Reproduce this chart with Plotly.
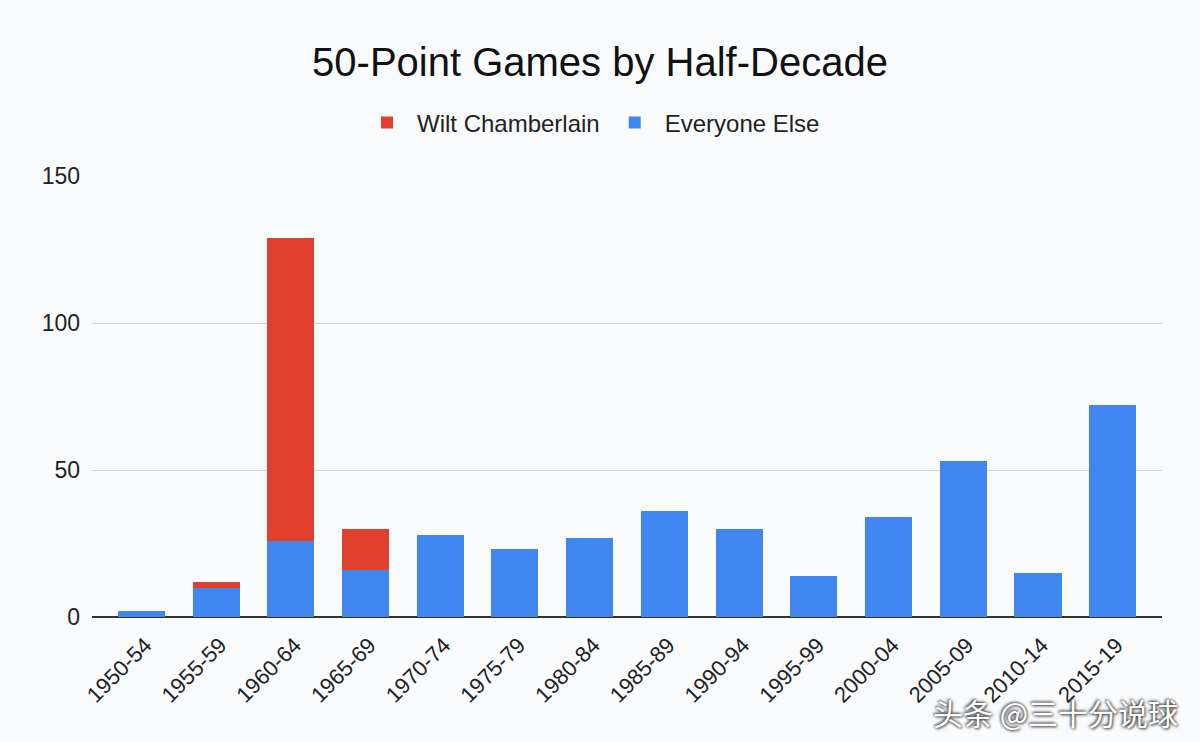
import plotly.graph_objects as go

categories = ["1950-54", "1955-59", "1960-64", "1965-69", "1970-74", "1975-79", "1980-84",
              "1985-89", "1990-94", "1995-99", "2000-04", "2005-09", "2010-14", "2015-19"]
everyone_else = [2, 10, 26, 16, 28, 23, 27, 36, 30, 14, 34, 53, 15, 72]
wilt = [0, 2, 103, 14, 0, 0, 0, 0, 0, 0, 0, 0, 0, 0]
y_ticks = [0, 50, 100, 150]

BLUE = "#3f86f0"
RED = "#e2402f"
FONT = "Liberation Sans, Arial, sans-serif"

W, H = 1200, 742
ML, MR, MT, MB = 92, 38, 176, 125

fig = go.Figure()
fig.add_trace(go.Bar(x=categories, y=everyone_else, name="Everyone Else",
                     marker=dict(color=BLUE, line=dict(width=0))))
fig.add_trace(go.Bar(x=categories, y=wilt, name="Wilt Chamberlain",
                     marker=dict(color=RED, line=dict(width=0))))

pw = W - ML - MR
ph = H - MT - MB

fig.update_layout(
    width=W, height=H,
    barmode="stack", bargap=0.37,
    paper_bgcolor="#fafbfd", plot_bgcolor="#fafbfd",
    font=dict(family=FONT, color="#222222"),
    title=dict(text="50-Point Games by Half-Decade", x=0.5, xanchor="center",
               y=1 - 62 / H, yanchor="middle", font=dict(size=40, color="#111111")),
    legend=dict(orientation="h", x=0.5 - 36 / pw, xanchor="center", y=(H - MB - 123) / ph,
                yanchor="middle", traceorder="reversed", itemwidth=50,
                font=dict(size=24, color="#222222"), bgcolor="rgba(0,0,0,0)"),
    margin=dict(l=ML, r=MR, t=MT, b=MB, autoexpand=False),
    xaxis=dict(type="category", range=[-0.66, 13.66], tickangle=-45,
               tickfont=dict(size=22, color="#222222"),
               showgrid=False, showline=False, ticks="",
               ticklabelstandoff=10, ticklabelshift=4),
    yaxis=dict(range=[0, 150], tickvals=y_ticks, tickfont=dict(size=23, color="#222222"),
               gridcolor="#d0d3d8", gridwidth=1, zeroline=True, zerolinecolor="#333333",
               zerolinewidth=1.5, ticks="", ticklabelstandoff=11),
    annotations=[dict(text="头条 @三十分说球", x=(1180 - ML) / pw, y=(H - MB - 712) / ph,
                      xref="paper", yref="paper",
                      showarrow=False, xanchor="right", yanchor="middle",
                      font=dict(family="Noto Sans CJK SC", size=30, color="white",
                                shadow="1px 1px 3px #333, -1px -1px 3px #333"))],
)

fig.write_html("out.html", config={"displayModeBar": False},
               post_script="document.body.style.margin='0';")
